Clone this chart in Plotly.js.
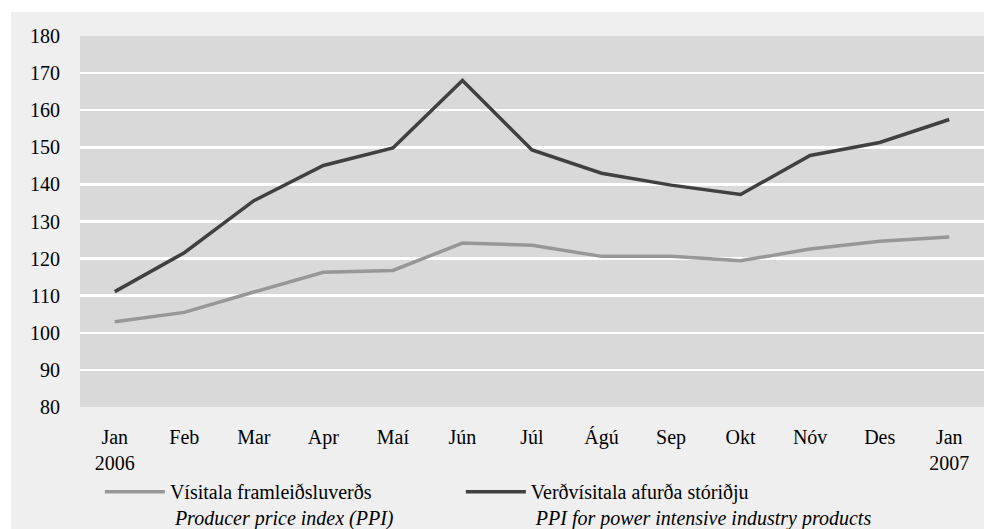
<!DOCTYPE html>
<html>
<head>
<meta charset="utf-8">
<script src="https://cdn.plot.ly/plotly-3.0.1.min.js"></script>
<style>
html,body{margin:0;padding:0;background:#ffffff;width:984px;height:529px;overflow:hidden;}
#chart{position:absolute;left:11px;top:12px;width:973px;height:517px;}
</style>
</head>
<body>
<div id="chart"></div>
<script>
var months = ['Jan','Feb','Mar','Apr','Maí','Jún','Júl','Ágú','Sep','Okt','Nóv','Des','Jan'];
var tickLabels = ['Jan<br>2006','Feb','Mar','Apr','Maí','Jún','Júl','Ágú','Sep','Okt','Nóv','Des','Jan<br>2007'];
var ppi = [103.0, 105.5, 111.0, 116.3, 116.8, 124.2, 123.6, 120.6, 120.6, 119.4, 122.6, 124.7, 125.8];
var ppiPowerIntensive = [111.1, 121.6, 135.6, 145.1, 149.8, 168.0, 149.3, 143.0, 139.8, 137.3, 147.8, 151.3, 157.5];
var seriesNames = [
  'Vísitala framleiðsluverðs<br> <i>Producer price index (PPI)</i>',
  'Verðvísitala afurða stóriðju<br> <i>PPI for power intensive industry products</i>'
];
var yTicks = [80, 90, 100, 110, 120, 130, 140, 150, 160, 170, 180];

var idx = months.map(function(m, i){ return i; });

var traces = [
  {x: idx, y: ppi, type: 'scatter', mode: 'lines', name: seriesNames[0],
   line: {color: '#979797', width: 3.5}, legend: 'legend'},
  {x: idx, y: ppiPowerIntensive, type: 'scatter', mode: 'lines', name: seriesNames[1],
   line: {color: '#404040', width: 3.5}, legend: 'legend2'}
];

var font = {family: 'Liberation Serif', size: 20, color: '#000000'};

function legendAt(xpos) {
  return {
    orientation: 'h',
    x: xpos, xanchor: 'left',
    yref: 'container',
    y: 0.110, yanchor: 'top',
    valign: 'top',
    bgcolor: 'rgba(0,0,0,0)',
    font: font,
    itemwidth: 60
  };
}

var layout = {
  width: 973, height: 517,
  margin: {l: 69, r: 0, t: 24, b: 122, pad: 0, autoexpand: false},
  paper_bgcolor: '#efefef',
  plot_bgcolor: '#d9d9d9',
  font: font,
  showlegend: true,
  xaxis: {
    range: [-0.5, 12.5],
    tickmode: 'array', tickvals: idx, ticktext: tickLabels,
    showgrid: false, zeroline: false, showline: false,
    ticks: 'outside', ticklen: 12, tickcolor: 'rgba(0,0,0,0)',
    tickfont: font, fixedrange: true, automargin: false
  },
  yaxis: {
    range: [80, 180],
    tickmode: 'array', tickvals: yTicks,
    showgrid: true, gridcolor: '#ffffff', gridwidth: 2.5,
    zeroline: false, showline: false,
    ticks: 'outside', ticklen: 15, tickcolor: 'rgba(0,0,0,0)',
    tickfont: font, fixedrange: true, automargin: false
  },
  legend: legendAt(0.022),
  legend2: legendAt(0.4213)
};

Plotly.newPlot('chart', traces, layout, {displayModeBar: false, staticPlot: true});
</script>
</body>
</html>
